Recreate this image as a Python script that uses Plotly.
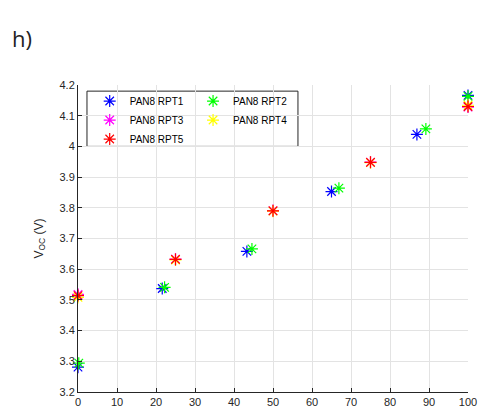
import plotly.graph_objects as go

# Open-circuit voltage vs. state of charge for PAN8 reference performance tests
soc_rpt1 = [0, 21.6, 43.3, 65.0, 86.9, 100]
voc_rpt1 = [3.281, 3.537, 3.658, 3.853, 4.039, 4.166]

soc_rpt2 = [0.2, 22.2, 44.6, 66.9, 89.2, 100]
voc_rpt2 = [3.294, 3.541, 3.666, 3.864, 4.057, 4.163]

soc_rpt3 = [0, 25, 50, 75, 100]
voc_rpt3 = [3.518, 3.633, 3.791, 3.949, 4.128]

soc_rpt4 = [0, 25, 50, 75, 100]
voc_rpt4 = [3.508, 3.630, 3.789, 3.947, 4.134]

soc_rpt5 = [0, 25, 50, 75, 100]
voc_rpt5 = [3.514, 3.632, 3.790, 3.948, 4.130]

series = [
    ("PAN8 RPT1", soc_rpt1, voc_rpt1, "#0000ff", "legend"),
    ("PAN8 RPT2", soc_rpt2, voc_rpt2, "#00ff00", "legend2"),
    ("PAN8 RPT3", soc_rpt3, voc_rpt3, "#ff00ff", "legend"),
    ("PAN8 RPT4", soc_rpt4, voc_rpt4, "#ffff00", "legend2"),
    ("PAN8 RPT5", soc_rpt5, voc_rpt5, "#ff0000", "legend"),
]

x_ticks = list(range(0, 101, 10))
y_ticks = [3.2, 3.3, 3.4, 3.5, 3.6, 3.7, 3.8, 3.9, 4.0, 4.1, 4.2]
y_tick_text = ["3.2", "3.3", "3.4", "3.5", "3.6", "3.7", "3.8", "3.9", "4", "4.1", "4.2"]

fig = go.Figure()
for name, xs, ys, color, leg in series:
    fig.add_trace(go.Scatter(
        x=xs, y=ys, mode="markers", name=name, legend=leg,
        cliponaxis=False,
        marker=dict(symbol="asterisk-open", size=10, color=color,
                    line=dict(color=color, width=1.2)),
    ))

tick_font = dict(family="Liberation Sans, Arial, sans-serif", size=11, color="#262626")
legend_font = dict(family="Liberation Sans, Arial, sans-serif", size=10, color="#000000")

fig.update_layout(
    width=482, height=414,
    margin=dict(l=78, r=14, t=85, b=22),
    paper_bgcolor="white", plot_bgcolor="white",
    showlegend=True,
    legend=dict(x=0.03, y=0.995, xanchor="left", yanchor="top",
                bgcolor="rgba(0,0,0,0)", borderwidth=0, font=legend_font,
                itemwidth=30, tracegroupgap=0),
    legend2=dict(x=0.295, y=0.995, xanchor="left", yanchor="top",
                 bgcolor="rgba(0,0,0,0)", borderwidth=0, font=legend_font,
                 itemwidth=30, tracegroupgap=0),
    xaxis=dict(range=[0, 100], tickvals=x_ticks, ticks="inside", ticklen=4,
               tickcolor="#262626", showline=True, linecolor="#262626", linewidth=1,
               showgrid=True, gridcolor="#e3e3e3", gridwidth=1, zeroline=False,
               tickfont=tick_font, automargin=False),
    yaxis=dict(range=[3.2, 4.2], tickvals=y_ticks, ticktext=y_tick_text,
               ticks="inside", ticklen=4, tickcolor="#262626",
               showline=True, linecolor="#262626", linewidth=1,
               showgrid=True, gridcolor="#e3e3e3", gridwidth=1, zeroline=False,
               tickfont=tick_font, automargin=False,
               title=dict(text="V<sub>OC</sub> (V)", standoff=13,
                          font=dict(family="Liberation Sans, Arial, sans-serif",
                                    size=12, color="#262626"))),
    shapes=[dict(type="rect", xref="paper", yref="paper",
                 x0=0.023, x1=0.564, y0=0.800, y1=0.980,
                 line=dict(color="#262626", width=1), fillcolor="white",
                 layer="below")],
    annotations=[dict(text="h)", xref="paper", yref="paper", x=-0.174, y=1.153,
                      xanchor="left", yanchor="middle", showarrow=False,
                      font=dict(family="Open Sans, sans-serif", size=22, color="#222222"))],
)

fig.write_html("out.html")
